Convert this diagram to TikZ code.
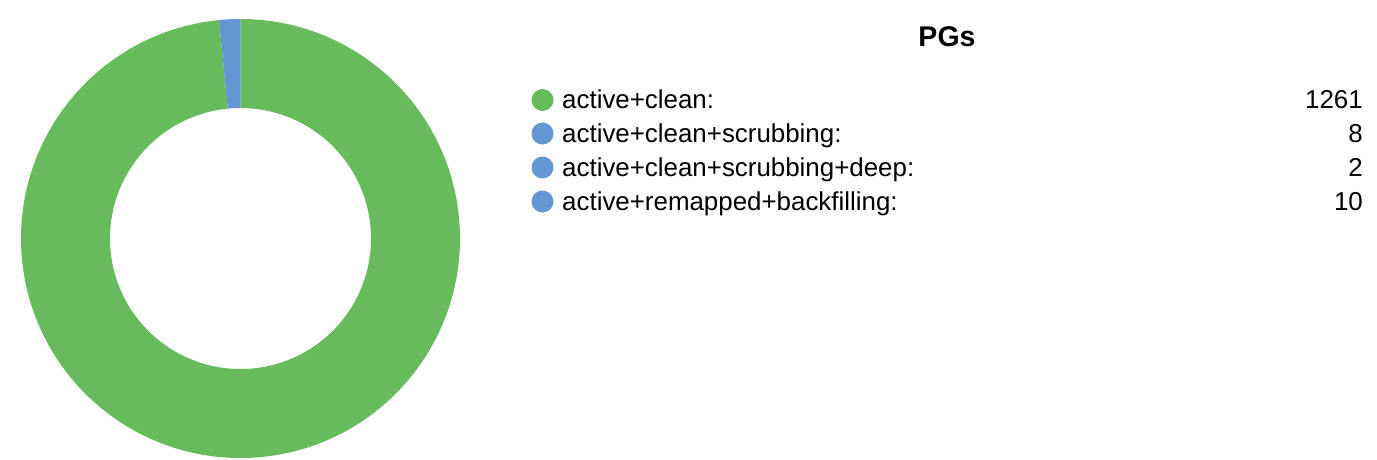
\documentclass[tikz,border=0pt]{standalone}
\usepackage{fontspec}
\setmainfont{Liberation Sans}
\usetikzlibrary{calc}
\definecolor{pggreen}{RGB}{103,187,92}
\definecolor{pgblue}{RGB}{99,150,211}
\begin{document}
\begin{tikzpicture}[x=1pt,y=-1pt,
  dot/.style={circle,inner sep=0pt,minimum size=22pt},
  legtext/.style={anchor=base west,inner sep=0pt,font=\fontsize{25.9pt}{30pt}\selectfont},
  legnum/.style={anchor=base east,inner sep=0pt,font=\fontsize{25.9pt}{30pt}\selectfont},
  title/.style={anchor=base,inner sep=0pt,font=\fontsize{28.5pt}{34pt}\selectfont\bfseries}]
\useasboundingbox[fill=white] (0,0) rectangle (1377,460);
% donut
\coordinate (c) at (240.5,238.5);
\def\Ro{219.5pt}\def\Ri{130.5pt}
\fill[pggreen] ($(c)+(95.62:\Ro)$) arc[start angle=95.62,end angle=450,radius=\Ro]
  -- ($(c)+(90:\Ri)$) arc[start angle=450,end angle=95.62,radius=\Ri] -- cycle;
\fill[pgblue] ($(c)+(90:\Ro)$) arc[start angle=90,end angle=95.62,radius=\Ro]
  -- ($(c)+(95.62:\Ri)$) arc[start angle=95.62,end angle=90,radius=\Ri] -- cycle;
% title
\node[title] (t) at (947,47) {PGs};
% legend
\node[dot,fill=pggreen] (d1) at (542.5,100) {};
\node[dot,fill=pgblue]  (d2) at (542.5,133.5) {};
\node[dot,fill=pgblue]  (d3) at (542.5,167.5) {};
\node[dot,fill=pgblue]  (d4) at (542.5,201.5) {};
\node[legtext] (l1) at (562,108.5) {active+clean:};
\node[legtext] (l2) at (562,142) {active+clean+scrubbing:};
\node[legtext] (l3) at (562,176) {active+clean+scrubbing+deep:};
\node[legtext] (l4) at (562,210) {active+remapped+backfilling:};
\node[legnum] (n1) at (1363,108.5) {1261};
\node[legnum] (n2) at (1363,142) {8};
\node[legnum] (n3) at (1363,176) {2};
\node[legnum] (n4) at (1363,210) {10};
\end{tikzpicture}
\end{document}
